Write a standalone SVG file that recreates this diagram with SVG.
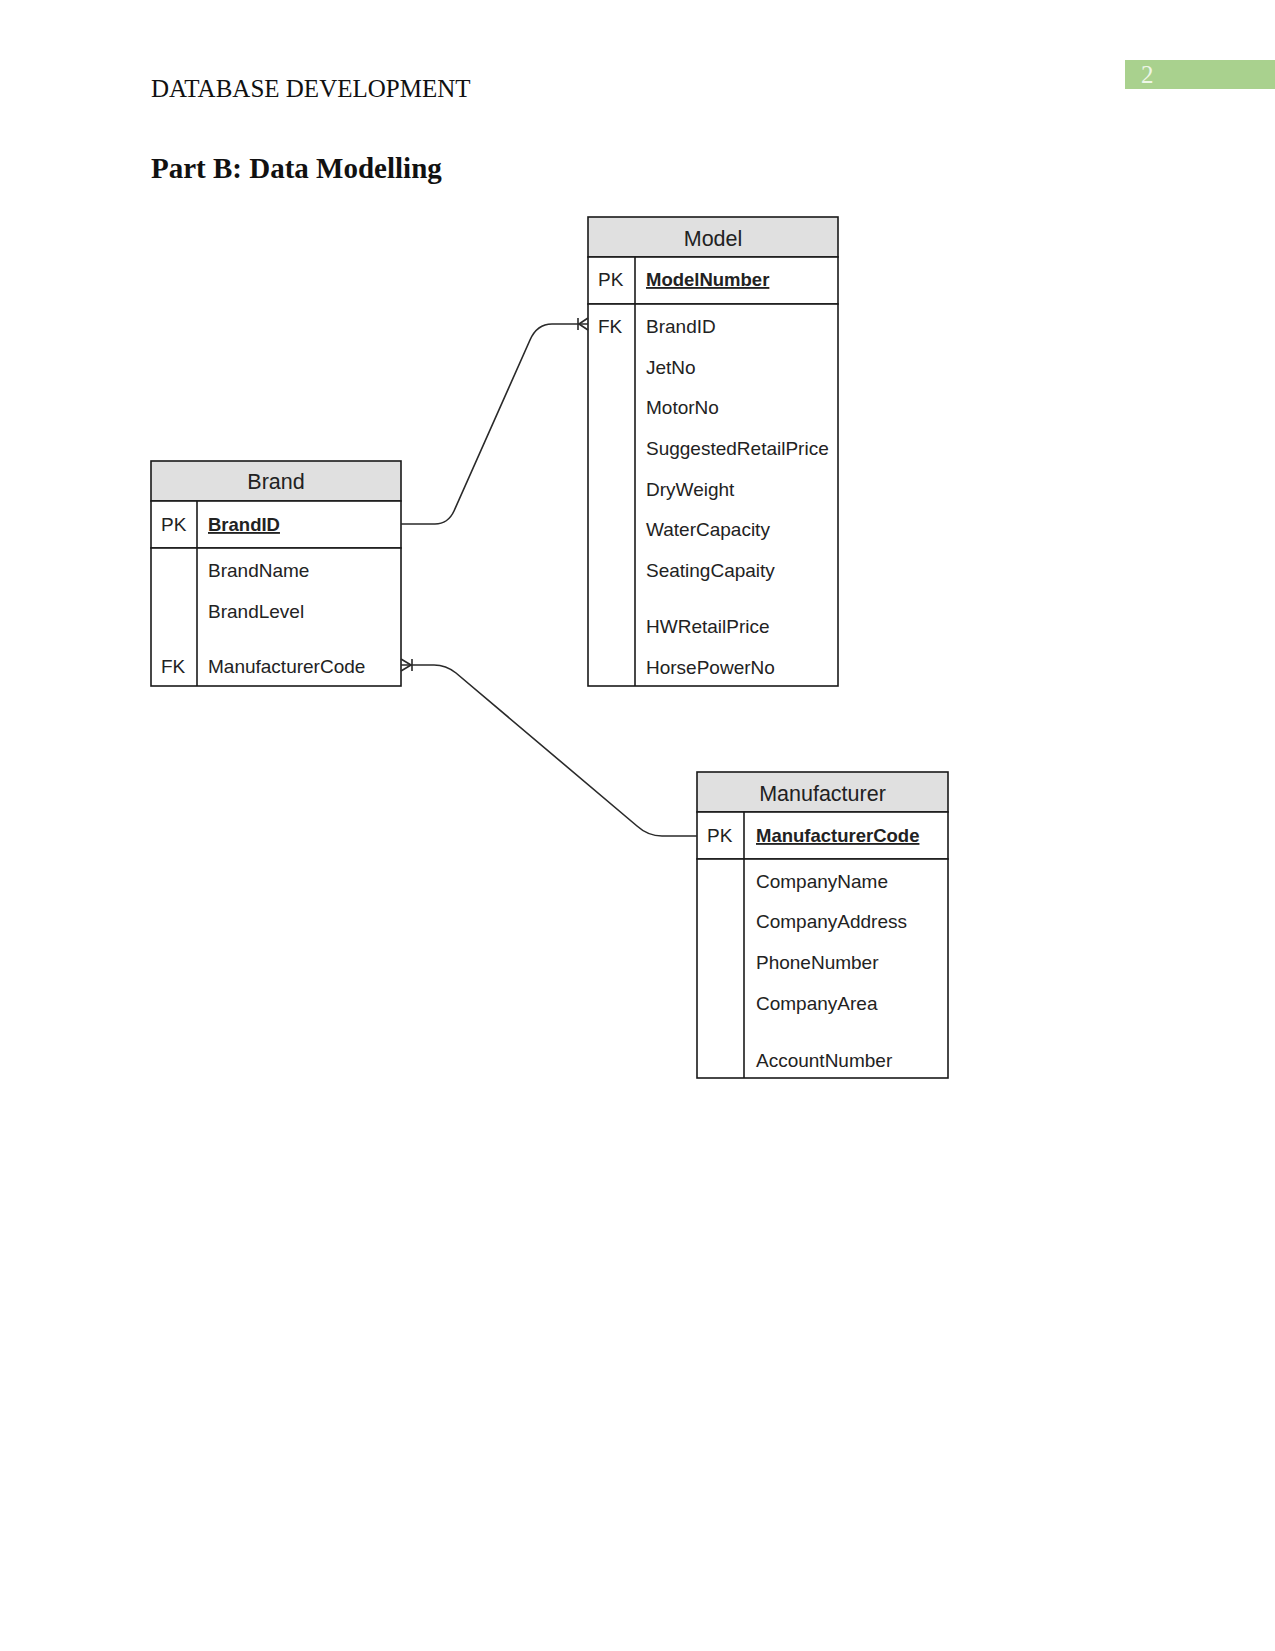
<svg xmlns="http://www.w3.org/2000/svg" width="1275" height="1651" viewBox="0 0 1275 1651">
<style>
.box{fill:#fff;stroke:#1a1a1a;stroke-width:1.6}
.hdr{fill:#e0e0e0;stroke:#1a1a1a;stroke-width:1.6}
.ln{stroke:#1a1a1a;stroke-width:1.6;fill:none}
.ttl{font-family:"Liberation Sans",Arial,sans-serif;font-size:21.5px;fill:#222;text-anchor:middle}
.f{font-family:"Liberation Sans",Arial,sans-serif;font-size:19px;fill:#222}
.pk{font-family:"Liberation Sans",Arial,sans-serif;font-size:18.5px;fill:#222;font-weight:bold;text-decoration:underline}
.con{stroke:#2a2a2a;stroke-width:1.6;fill:none}
</style>
<defs>
<clipPath id="mclip"><rect x="588" y="304" width="243" height="382"/></clipPath>
</defs>
<rect width="1275" height="1651" fill="#fff"/>
<g id="page-header">
<text x="151" y="97" font-family="Liberation Serif,Times New Roman,serif" font-size="25" fill="#111">DATABASE DEVELOPMENT</text>
<rect x="1125" y="60" width="150" height="29" fill="#a9d18e"/>
<text x="1141" y="83" font-family="Liberation Serif,Times New Roman,serif" font-size="25" fill="#eef6e8">2</text>
<text x="151" y="178" font-family="Liberation Serif,Times New Roman,serif" font-size="29" font-weight="bold" fill="#111">Part B: Data Modelling</text>
</g>
<g id="Model">
<rect class="hdr" x="588" y="217" width="250" height="40"/>
<rect class="box" x="588" y="257" width="250" height="47"/>
<rect class="box" x="588" y="304" width="250" height="382"/>
<line class="ln" x1="635" y1="257" x2="635" y2="686"/>
<text class="ttl" x="713" y="246">Model</text>
<text class="f" x="598" y="286">PK</text>
<text class="pk" x="646" y="286">ModelNumber</text>
<text class="f" x="598" y="333">FK</text>
<text class="f" x="646" y="333">BrandID</text>
<text class="f" x="646" y="374">JetNo</text>
<text class="f" x="646" y="414">MotorNo</text>
<text class="f" x="646" y="455" clip-path="url(#mclip)">SuggestedRetailPrice</text>
<text class="f" x="646" y="496">DryWeight</text>
<text class="f" x="646" y="536">WaterCapacity</text>
<text class="f" x="646" y="577">SeatingCapaity</text>
<text class="f" x="646" y="633">HWRetailPrice</text>
<text class="f" x="646" y="674">HorsePowerNo</text>
</g>
<g id="Brand">
<rect class="hdr" x="151" y="461" width="250" height="40"/>
<rect class="box" x="151" y="501" width="250" height="47"/>
<rect class="box" x="151" y="548" width="250" height="138"/>
<line class="ln" x1="197" y1="501" x2="197" y2="686"/>
<text class="ttl" x="276" y="489">Brand</text>
<text class="f" x="161" y="531">PK</text>
<text class="pk" x="208" y="531">BrandID</text>
<text class="f" x="208" y="577">BrandName</text>
<text class="f" x="208" y="618">BrandLevel</text>
<text class="f" x="161" y="673">FK</text>
<text class="f" x="208" y="673">ManufacturerCode</text>
</g>
<g id="Manufacturer">
<rect class="hdr" x="697" y="772" width="251" height="40"/>
<rect class="box" x="697" y="812" width="251" height="47"/>
<rect class="box" x="697" y="859" width="251" height="219"/>
<line class="ln" x1="744" y1="812" x2="744" y2="1078"/>
<text class="ttl" x="822.5" y="801">Manufacturer</text>
<text class="f" x="707" y="842">PK</text>
<text class="pk" x="756" y="842">ManufacturerCode</text>
<text class="f" x="756" y="888">CompanyName</text>
<text class="f" x="756" y="928">CompanyAddress</text>
<text class="f" x="756" y="969">PhoneNumber</text>
<text class="f" x="756" y="1010">CompanyArea</text>
<text class="f" x="756" y="1067">AccountNumber</text>
</g>
<g id="connectors">
<path class="con" d="M401,524 L435,524 Q448,524 454,511 L530,340 Q537,324 552,324 L588,324"/>
<path class="con" d="M578,318 L578,330 M579,324 L588,318 M579,324 L588,330"/>
<path class="con" d="M401,665 L434,665 Q446,665 456,673 L637,826 Q648,836 662,836 L697,836"/>
<path class="con" d="M412,659 L412,671 M411,665 L401,659 M411,665 L401,671"/>
</g>
</svg>
